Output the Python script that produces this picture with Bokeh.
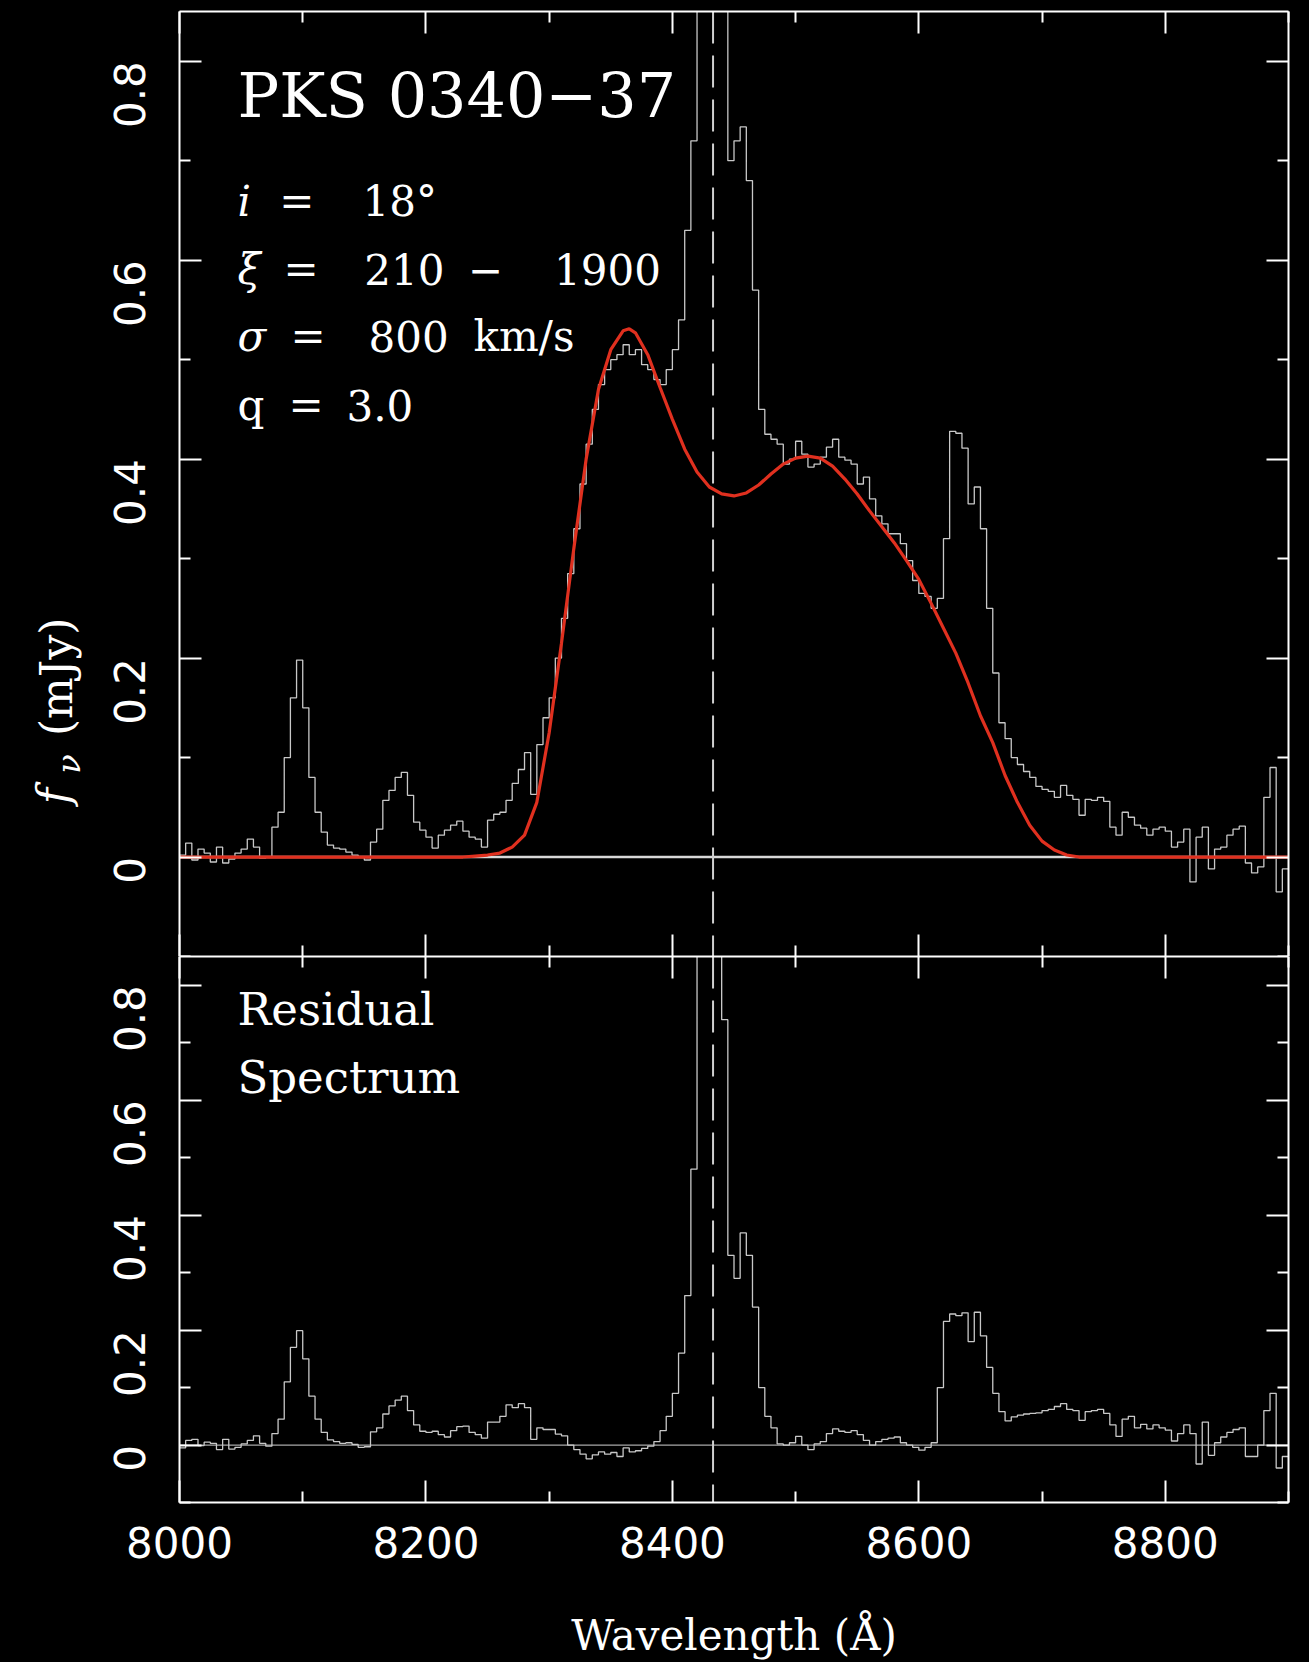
import math
from bokeh.plotting import figure
from bokeh.models import FixedTicker, Span, Label, LinearAxis
from bokeh.layouts import column, row
from bokeh.core.properties import value
from bokeh.embed import file_html
from bokeh.resources import INLINE

# ---------------- data ----------------
BIN_START = 8000.0      # Angstrom, first bin edge
BIN_WIDTH = 5.0         # Angstrom

# observed spectrum f_nu (mJy), one value per 5 A bin from 8000 to 8900
flux = [
    0.002, 0.014, -0.003, 0.008, 0.004, -0.005, 0.010, -0.006, -0.002, 0.004,
    0.008, 0.018, 0.010, -0.001, 0.000, 0.030, 0.045, 0.100, 0.160, 0.198,
    0.150, 0.080, 0.045, 0.025, 0.012, 0.009, 0.008, 0.005, 0.002, 0.000,
    -0.003, 0.015, 0.028, 0.057, 0.067, 0.080, 0.085, 0.062, 0.035, 0.027,
    0.020, 0.009, 0.022, 0.027, 0.032, 0.036, 0.026, 0.020, 0.018, 0.010,
    0.037, 0.043, 0.045, 0.057, 0.074, 0.088, 0.105, 0.063, 0.113, 0.140,
    0.160, 0.200, 0.240, 0.285, 0.330, 0.375, 0.415, 0.450, 0.475, 0.490,
    0.500, 0.505, 0.515, 0.505, 0.510, 0.495, 0.490, 0.480, 0.475, 0.490,
    0.510, 0.540, 0.630, 0.720, 1.100, 1.300, 1.300, 1.200, 0.950, 0.700,
    0.720, 0.734, 0.680, 0.570, 0.450, 0.425, 0.420, 0.415, 0.395, 0.400,
    0.418, 0.405, 0.392, 0.395, 0.402, 0.412, 0.420, 0.402, 0.399, 0.395,
    0.375, 0.382, 0.360, 0.343, 0.335, 0.325, 0.325, 0.315, 0.298, 0.278,
    0.265, 0.262, 0.250, 0.260, 0.320, 0.428, 0.426, 0.411, 0.355, 0.372,
    0.330, 0.250, 0.185, 0.135, 0.119, 0.100, 0.093, 0.086, 0.080, 0.071,
    0.068, 0.066, 0.060, 0.072, 0.062, 0.058, 0.042, 0.058, 0.057, 0.060,
    0.056, 0.030, 0.022, 0.045, 0.040, 0.032, 0.029, 0.022, 0.028, 0.030,
    0.026, 0.010, 0.015, 0.028, -0.025, 0.020, 0.030, -0.012, 0.008, 0.010,
    0.022, 0.028, 0.031, -0.006, -0.016, -0.010, 0.060, 0.090, -0.035, -0.012,
]

# residual spectrum (mJy), same bins
residual = [
    -0.005, 0.008, 0.010, -0.001, 0.005, 0.003, -0.008, 0.010, -0.007, -0.004,
    0.002, 0.008, 0.016, 0.003, -0.002, 0.020, 0.045, 0.110, 0.170, 0.199,
    0.150, 0.085, 0.045, 0.022, 0.009, 0.006, 0.003, 0.004, 0.001, -0.004,
    -0.003, 0.023, 0.030, 0.054, 0.068, 0.078, 0.085, 0.060, 0.035, 0.024,
    0.022, 0.024, 0.018, 0.014, 0.025, 0.032, 0.033, 0.022, 0.018, 0.012,
    0.040, 0.040, 0.050, 0.070, 0.065, 0.072, 0.065, 0.010, 0.030, 0.027,
    0.027, 0.019, 0.016, 0.000, -0.008, -0.016, -0.024, -0.017, -0.012, -0.016,
    -0.013, -0.020, -0.005, -0.012, -0.010, -0.006, -0.002, 0.006, 0.025, 0.050,
    0.090, 0.160, 0.260, 0.480, 1.000, 1.100, 1.100, 1.000, 0.740, 0.330,
    0.290, 0.369, 0.330, 0.240, 0.100, 0.050, 0.030, 0.002, 0.000, 0.004,
    0.015, 0.000, -0.008, 0.002, 0.006, 0.020, 0.028, 0.024, 0.022, 0.025,
    0.018, 0.008, 0.000, 0.006, 0.010, 0.012, 0.014, 0.004, 0.000, -0.004,
    -0.009, -0.004, 0.004, 0.100, 0.215, 0.228, 0.225, 0.230, 0.180, 0.231,
    0.190, 0.135, 0.090, 0.058, 0.042, 0.049, 0.052, 0.054, 0.055, 0.056,
    0.060, 0.062, 0.067, 0.072, 0.062, 0.060, 0.043, 0.058, 0.060, 0.062,
    0.055, 0.035, 0.015, 0.045, 0.050, 0.030, 0.036, 0.028, 0.035, 0.030,
    0.026, 0.007, 0.020, 0.035, 0.020, -0.033, 0.040, -0.018, 0.004, 0.014,
    0.022, 0.027, 0.030, -0.020, -0.020, 0.000, 0.060, 0.090, -0.040, -0.020,
]

# disk model profile (red curve)
model_wave = [8000, 8230, 8240, 8250, 8260, 8270, 8280, 8290, 8300, 8310,
              8320, 8330, 8340, 8350, 8360, 8365, 8370, 8380, 8390, 8400,
              8410, 8420, 8430, 8440, 8450, 8460, 8470, 8480, 8490, 8500,
              8510, 8520, 8530, 8540, 8550, 8560, 8570, 8580, 8590, 8600,
              8610, 8620, 8630, 8640, 8650, 8660, 8670, 8680, 8690, 8700,
              8710, 8720, 8730, 8900]
model_flux = [0.000, 0.000, 0.001, 0.002, 0.004, 0.010, 0.022, 0.055, 0.125, 0.215,
              0.310, 0.400, 0.470, 0.510, 0.529, 0.531, 0.527, 0.505, 0.472, 0.440,
              0.410, 0.387, 0.372, 0.365, 0.363, 0.366, 0.374, 0.385, 0.395, 0.401,
              0.403, 0.401, 0.393, 0.380, 0.365, 0.348, 0.332, 0.316, 0.298, 0.279,
              0.255, 0.230, 0.205, 0.175, 0.142, 0.115, 0.082, 0.055, 0.032, 0.016,
              0.007, 0.002, 0.000, 0.000]

LINE_CENTER = 8433.0     # dashed line (redshifted H-alpha)

X_RANGE = (8000, 8900)
Y_RANGE = (-0.1, 0.85)
x_major = [8000, 8200, 8400, 8600, 8800]
x_minor = [8100, 8300, 8500, 8700, 8900]
y_major = [0, 0.2, 0.4, 0.6, 0.8]
y_minor = [-0.1, 0.1, 0.3, 0.5, 0.7]
y_tick_labels = {0: "0", 0.2: "0.2", 0.4: "0.4", 0.6: "0.6", 0.8: "0.8"}
x_tick_labels = {8000: "8000", 8200: "8200", 8400: "8400", 8600: "8600", 8800: "8800"}

# ---------------- styling ----------------
WHITE = "white"
SERIF = "DejaVu Serif"
SANS = "DejaVu Sans"
HIST_COLOR = "#c8c8c8"
MODEL_COLOR = "#e0301f"
LABEL_W = 86            # width of the strip holding the rotated y title

edges = [BIN_START + BIN_WIDTH * i for i in range(len(flux) + 1)]


def add_axis(p, side, ticks, minor, labels=None, orientation="horizontal"):
    ax = LinearAxis(ticker=FixedTicker(ticks=ticks, minor_ticks=minor))
    ax.axis_line_color = WHITE
    ax.axis_line_width = 2
    ax.major_tick_line_color = WHITE
    ax.major_tick_line_width = 2
    ax.minor_tick_line_color = WHITE
    ax.minor_tick_line_width = 2
    ax.major_tick_in = 22
    ax.major_tick_out = 0
    ax.minor_tick_in = 11
    ax.minor_tick_out = 0
    if labels:
        ax.major_label_overrides = labels
        ax.major_label_text_color = WHITE
        ax.major_label_text_font = SANS
        ax.major_label_text_font_size = "42px"
        ax.major_label_orientation = orientation
    else:
        ax.major_label_overrides = {t: "" for t in ticks}
        ax.major_label_standoff = 0
        ax.major_label_text_font_size = "1px"
    p.add_layout(ax, side)
    return ax


def make_panel(width, height, left, top_b, bottom_b):
    p = figure(width=width, height=height, x_range=X_RANGE, y_range=Y_RANGE,
               output_backend="svg", toolbar_location=None,
               x_axis_location=None, y_axis_location=None,
               min_border_left=left, min_border_right=21,
               min_border_top=top_b, min_border_bottom=bottom_b)
    p.background_fill_color = "black"
    p.border_fill_color = "black"
    p.outline_line_color = None
    p.grid.visible = False
    return p


def text(p, x, y, s, size, style="normal"):
    p.add_layout(Label(x=x, y=y, text=s, text_color=WHITE, text_font=SERIF,
                       text_font_size=size, text_font_style=style,
                       text_baseline="alphabetic", text_align="left"))


# ---------------- top panel ----------------
top = make_panel(1309 - LABEL_W, 956, 179 - LABEL_W, 11, 0)
add_axis(top, "left", y_major, y_minor, y_tick_labels, math.pi / 2)
top.yaxis.major_label_standoff = 50
add_axis(top, "right", y_major, y_minor)
add_axis(top, "above", x_major, x_minor)
add_axis(top, "below", x_major, x_minor)

top.add_layout(Span(location=0, dimension="width", line_color="#d8d8d8",
                    line_width=2.5, level="underlay"))
top.add_layout(Span(location=LINE_CENTER, dimension="height", line_color="#d0d0d0",
                    line_width=2, line_dash="32 12", level="underlay"))
top.step(edges, flux + [flux[-1]], mode="after", line_color=HIST_COLOR, line_width=1.3)
top.line(model_wave, model_flux, line_color=MODEL_COLOR, line_width=3.2)

text(top, 8047, 0.766, "PKS 0340\u221237", "62px")
text(top, 8047, 0.659, "i", "42px", "italic")
text(top, 8081, 0.659, "=", "42px")
text(top, 8148.5, 0.659, "18\u00b0", "42px")
text(top, 8047, 0.591, "\u03be", "42px", "italic")
text(top, 8084.4, 0.591, "=", "42px")
text(top, 8150, 0.591, "210", "42px")
text(top, 8234, 0.591, "\u2212", "42px")
text(top, 8304, 0.591, "1900", "42px")
text(top, 8047, 0.523, "\u03c3", "42px", "italic")
text(top, 8090, 0.523, "=", "42px")
text(top, 8153.4, 0.523, "800", "42px")
text(top, 8238.6, 0.523, "km/s", "42px")
text(top, 8047, 0.454, "q", "42px")
text(top, 8088.5, 0.454, "=", "42px")
text(top, 8135.5, 0.454, "3.0", "42px")

# ---------------- strip with the rotated y-axis title ----------------
lab = figure(width=LABEL_W, height=956, x_range=(0, LABEL_W), y_range=(0, 956),
             output_backend="svg", toolbar_location=None,
             x_axis_location=None, y_axis_location=None, min_border=0)
lab.background_fill_color = "black"
lab.border_fill_color = "black"
lab.outline_line_color = None
lab.grid.visible = False
lab.text(x=[53], y=[956 - 802], text=["f"], angle=math.pi / 2,
         text_color=WHITE, text_font=value(SERIF), text_font_size="44px",
         text_font_style="italic", text_baseline="middle", text_align="left")
lab.text(x=[68], y=[956 - 771], text=["\u03bd"], angle=math.pi / 2,
         text_color=WHITE, text_font=value(SERIF), text_font_size="32px",
         text_font_style="italic", text_baseline="middle", text_align="left")
lab.text(x=[56], y=[956 - 733], text=["(mJy)"], angle=math.pi / 2,
         text_color=WHITE, text_font=value(SERIF), text_font_size="44px",
         text_baseline="middle", text_align="left")

# ---------------- bottom panel ----------------
bot = make_panel(1309, 706, 179, 0, 160)
add_axis(bot, "left", y_major, y_minor, y_tick_labels, math.pi / 2)
bot.yaxis.major_label_standoff = 50
add_axis(bot, "right", y_major, y_minor)
add_axis(bot, "above", x_major, x_minor)
xax = add_axis(bot, "below", x_major, x_minor, x_tick_labels)
xax.major_label_standoff = 24
xax.axis_label = "Wavelength (\u00c5)"
xax.axis_label_text_font = SERIF
xax.axis_label_text_font_style = "normal"
xax.axis_label_text_font_size = "42px"
xax.axis_label_text_color = WHITE
xax.axis_label_standoff = 50

bot.add_layout(Span(location=0, dimension="width", line_color="#a8a8a8",
                    line_width=1.2, level="underlay"))
bot.add_layout(Span(location=LINE_CENTER, dimension="height", line_color="#d0d0d0",
                    line_width=2, line_dash="32 12", level="underlay"))
bot.step(edges, residual + [residual[-1]], mode="after", line_color=HIST_COLOR, line_width=1.3)

text(bot, 8047, 0.758, "Residual", "45px")
text(bot, 8047, 0.640, "Spectrum", "45px")

layout = column(row(lab, top, spacing=0), bot, spacing=0)
layout.styles = {"background-color": "black"}

open("out.html", "w").write(file_html(layout, INLINE, title="PKS 0340-37"))
